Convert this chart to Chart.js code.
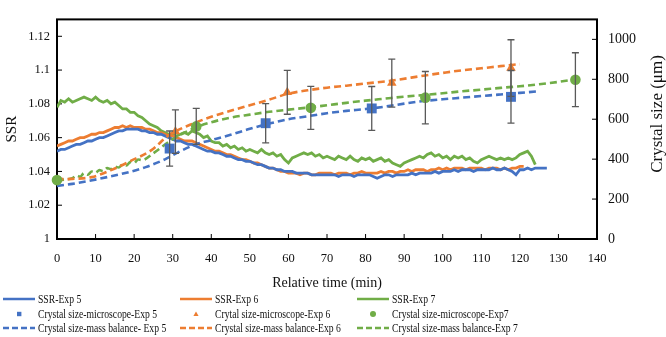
<!DOCTYPE html>
<html lang="en">
<head>
<meta charset="UTF-8">
<title>SSR and crystal size</title>
<style>
  body { margin: 0; background: #fff; overflow: hidden; }
  #wrap { position: relative; width: 666px; height: 337px; }
  #legend { position: absolute; left: 0; top: 0; width: 666px; height: 337px; pointer-events: none;
            font-family: "Liberation Serif", "Times New Roman", serif; font-size: 11.5px; color: #111; }
  .item { position: absolute; height: 14px; white-space: nowrap; }
  .item svg { position: absolute; left: 0; top: 0; }
  .item span { position: absolute; left: 35px; top: 0; line-height: 14px; display: inline-block;
               transform: scaleX(0.84); transform-origin: left center; }
</style>
</head>
<body>
<div id="wrap">
  <canvas id="myChart" width="666" height="337"></canvas>
  <div id="legend"></div>
</div>

<script src="https://cdn.jsdelivr.net/npm/chart.js"></script>
<script>
// SSR, one reading per minute starting at t = 0 (left axis)
const ssr5 = [
  1.052,1.053,1.053,1.054,1.055,1.056,1.056,1.057,1.058,1.058,
  1.059,1.060,1.060,1.061,1.062,1.063,1.064,1.064,1.065,1.065,
  1.065,1.065,1.064,1.064,1.063,1.063,1.062,1.062,1.061,1.060,
  1.059,1.058,1.058,1.057,1.056,1.056,1.055,1.054,1.053,1.052,
  1.052,1.051,1.051,1.050,1.049,1.049,1.048,1.047,1.047,1.046,
  1.046,1.045,1.044,1.044,1.043,1.042,1.042,1.041,1.041,1.040,
  1.040,1.040,1.039,1.039,1.039,1.039,1.038,1.038,1.038,1.038,
  1.038,1.038,1.038,1.037,1.038,1.038,1.038,1.037,1.038,1.038,
  1.038,1.038,1.037,1.036,1.037,1.038,1.038,1.037,1.038,1.038,
  1.038,1.038,1.039,1.038,1.039,1.039,1.039,1.039,1.040,1.039,
  1.040,1.040,1.040,1.041,1.040,1.041,1.041,1.041,1.040,1.041,
  1.041,1.041,1.041,1.042,1.041,1.041,1.042,1.041,1.040,1.038,
  1.041,1.041,1.042,1.041,1.042,1.042,1.042,1.042
];
const ssr6 = [
  1.055,1.056,1.057,1.058,1.058,1.059,1.060,1.060,1.061,1.062,
  1.062,1.063,1.063,1.064,1.065,1.066,1.066,1.067,1.066,1.067,
  1.066,1.066,1.066,1.065,1.065,1.064,1.063,1.063,1.062,1.061,
  1.061,1.060,1.059,1.058,1.058,1.058,1.057,1.056,1.055,1.054,
  1.053,1.052,1.052,1.051,1.050,1.050,1.049,1.048,1.047,1.047,
  1.046,1.045,1.045,1.044,1.043,1.042,1.042,1.041,1.040,1.040,
  1.039,1.039,1.039,1.038,1.039,1.039,1.038,1.038,1.039,1.039,
  1.039,1.039,1.038,1.039,1.039,1.039,1.038,1.039,1.039,1.040,
  1.039,1.039,1.039,1.039,1.040,1.039,1.040,1.040,1.039,1.040,
  1.040,1.041,1.040,1.041,1.041,1.041,1.040,1.041,1.041,1.042,
  1.041,1.042,1.041,1.042,1.042,1.042,1.041,1.042,1.042,1.042,
  1.042,1.041,1.042,1.042,1.042,1.041,1.042,1.041,1.042,1.042,
  1.043,1.043
];
const ssr7 = [
  1.078,1.082,1.081,1.083,1.081,1.082,1.083,1.084,1.083,1.082,
  1.084,1.082,1.081,1.082,1.080,1.081,1.079,1.077,1.077,1.075,
  1.075,1.073,1.072,1.070,1.068,1.067,1.066,1.064,1.063,1.062,
  1.062,1.061,1.062,1.063,1.062,1.064,1.063,1.062,1.060,1.061,
  1.058,1.057,1.057,1.055,1.056,1.054,1.055,1.053,1.054,1.052,
  1.053,1.052,1.051,1.053,1.051,1.050,1.051,1.049,1.050,1.047,
  1.045,1.048,1.049,1.050,1.051,1.050,1.051,1.049,1.050,1.048,
  1.049,1.048,1.047,1.049,1.048,1.047,1.049,1.047,1.046,1.048,
  1.047,1.048,1.046,1.047,1.048,1.046,1.047,1.045,1.044,1.043,
  1.045,1.046,1.047,1.048,1.049,1.048,1.050,1.051,1.049,1.050,
  1.048,1.049,1.047,1.049,1.048,1.049,1.047,1.048,1.046,1.045,
  1.047,1.048,1.049,1.048,1.047,1.048,1.047,1.048,1.047,1.048,
  1.050,1.051,1.052,1.049,1.044
];

// crystal size from microscope (right axis, µm) with error bars
const microTime5 = [29.2, 54.1, 81.6, 117.7];
const micro5     = [453, 580, 654, 712];
const microErr5  = [88, 98, 110, 132];
const microTime6 = [30.7, 59.7, 86.8, 117.7];
const micro6     = [538, 735, 781, 856];
const microErr6  = [109, 110, 120, 142];
const microTime7 = [0, 36.1, 65.8, 95.5, 134.4];
const micro7     = [295, 564, 657, 708, 798];
const microErr7  = [0, 90, 108, 131, 135];

// crystal size from mass balance (right axis, µm)
const mbTime5 = [0,4,8,13,18,23,28,32,36,40,45,50,55,60,65,70,75,80,85,90,95,100,105,110,115,120,125];
const mb5     = [266,276,290,310,332,360,399,440,474,495,522,552,578,600,615,630,642,651,663,678,691,700,708,716,724,732,740];
const mbTime6 = [0,1.5,4,9,14,19,24.5,29,34.5,40,45,50,55,60,65,70,75,80,87,95,100,105,110,115,120];
const mb6     = [312,300,301,310,345,390,445,520,572,612,642,670,698,728,745,758,768,779,794,818,832,845,855,866,876];
const mbTime7 = [0,2,4,5,6,7,8,9,10,11,12,13,14,15,16,17,18,19,20,21,22,25,30,36.1,40,45,50,55,60,65.8,70,75,80,85,90,95.5,100,105,110,115,120,125,130,134.4];
const mb7     = [295,298,305,318,312,330,322,338,332,345,340,355,350,362,358,372,368,385,380,398,395,430,500,560,585,608,623,637,648,660,670,682,693,703,713,722,730,740,748,757,765,775,787,800];

const blue = '#4472C4', orange = '#ED7D31', green = '#70AD47';
const serif = '"Liberation Serif", "Times New Roman", serif';

function minutes(v) { return v.map((y, i) => ({ x: i, y: y })); }
function pts(t, v) { return v.map((y, i) => ({ x: t[i], y: y })); }

function ssrLine(label, v, color) {
  return { label: label, data: minutes(v), yAxisID: 'y', borderColor: color, backgroundColor: color,
           borderWidth: 2.8, pointRadius: 0, showLine: true, tension: 0, order: 5 };
}
function microDots(label, t, v, color, style, r) {
  return { label: label, data: pts(t, v), yAxisID: 'y2', showLine: false, pointStyle: style,
           pointRadius: r, backgroundColor: color, borderColor: color, borderWidth: 0, clip: false, order: 1 };
}
function mbLine(label, t, v, color) {
  return { label: label, data: pts(t, v), yAxisID: 'y2', borderColor: color, backgroundColor: color,
           borderWidth: 2.6, borderDash: [7, 4], pointRadius: 0, showLine: true,
           cubicInterpolationMode: 'monotone', order: 3 };
}

const errorSets = [
  { t: microTime5, v: micro5, err: microErr5 },
  { t: microTime6, v: micro6, err: microErr6 },
  { t: microTime7, v: micro7, err: microErr7 }
];

const framePlugin = {
  id: 'frame',
  beforeDatasetsDraw(chart) {
    const ctx = chart.ctx, a = chart.chartArea;
    ctx.save();
    ctx.strokeStyle = '#000';
    ctx.lineWidth = 1;
    // tick marks pointing inside
    ctx.beginPath();
    chart.scales.x.ticks.forEach(t => {
      const px = chart.scales.x.getPixelForValue(t.value);
      ctx.moveTo(px, a.bottom); ctx.lineTo(px, a.bottom - 5);
    });
    chart.scales.y.ticks.forEach(t => {
      const py = chart.scales.y.getPixelForValue(t.value);
      ctx.moveTo(a.left, py); ctx.lineTo(a.left + 5, py);
    });
    chart.scales.y2.ticks.forEach(t => {
      const py = chart.scales.y2.getPixelForValue(t.value);
      ctx.moveTo(a.right, py); ctx.lineTo(a.right - 5, py);
    });
    ctx.stroke();
    ctx.lineWidth = 2;
    ctx.strokeRect(a.left, a.top, a.right - a.left, a.bottom - a.top);
    ctx.restore();
  },
  afterDatasetsDraw(chart) {
    const ctx = chart.ctx;
    const xs = chart.scales.x, yr = chart.scales.y2;
    ctx.save();
    ctx.strokeStyle = '#595959';
    ctx.lineWidth = 1.3;
    errorSets.forEach(s => {
      for (let i = 0; i < s.t.length; i++) {
        if (!s.err[i]) continue;
        const px = xs.getPixelForValue(s.t[i]);
        const top = yr.getPixelForValue(s.v[i] + s.err[i]);
        const bot = yr.getPixelForValue(s.v[i] - s.err[i]);
        ctx.beginPath();
        ctx.moveTo(px, top); ctx.lineTo(px, bot);
        ctx.moveTo(px - 3.5, top); ctx.lineTo(px + 3.5, top);
        ctx.moveTo(px - 3.5, bot); ctx.lineTo(px + 3.5, bot);
        ctx.stroke();
      }
    });
    ctx.restore();
  },
  afterDraw(chart) {
    // right axis title reads bottom to top
    const ctx = chart.ctx;
    ctx.save();
    ctx.translate(658, 114);
    ctx.rotate(-Math.PI / 2);
    ctx.fillStyle = '#111';
    ctx.font = '17px ' + serif;
    ctx.textAlign = 'center';
    ctx.textBaseline = 'middle';
    ctx.fillText('Crystal size (\u03bcm)', 0, 0);
    ctx.restore();
  }
};

Chart.defaults.font.family = serif;
Chart.defaults.color = '#111';

const ctx = document.getElementById('myChart');
const v_chart = new Chart(ctx, {
  type: 'line',
  data: {
    datasets: [
      ssrLine('SSR-Exp 5', ssr5, blue),
      ssrLine('SSR-Exp 6', ssr6, orange),
      ssrLine('SSR-Exp 7', ssr7, green),
      microDots('Crystal size-microscope-Exp 5', microTime5, micro5, blue, 'rect', 7),
      microDots('Crytal size-microscope-Exp 6', microTime6, micro6, orange, 'triangle', 5.5),
      microDots('Crystal size-microscope-Exp7', microTime7, micro7, green, 'circle', 5.3),
      mbLine('Crystal size-mass balance- Exp 5', mbTime5, mb5, blue),
      mbLine('Crystal size-mass balance-Exp 6', mbTime6, mb6, orange),
      mbLine('Crystal size-mass balance-Exp 7', mbTime7, mb7, green)
    ]
  },
  options: {
    responsive: false,
    animation: false,
    devicePixelRatio: 1,
    layout: { padding: { top: 3, bottom: 43, left: 0, right: 0 } },
    plugins: { legend: { display: false }, tooltip: { enabled: false } },
    scales: {
      x: {
        type: 'linear', position: 'bottom', min: 0, max: 140,
        border: { display: false },
        grid: { display: false, drawTicks: false },
        ticks: { stepSize: 10, padding: 12, maxRotation: 0, autoSkip: false, font: { size: 12.5 } },
        title: { display: true, text: 'Relative time (min)', font: { size: 14 }, padding: { top: 2, bottom: 2 } },
        afterFit(s) { s.height = 55; }
      },
      y: {
        type: 'linear', position: 'left', min: 1, max: 1.13,
        border: { display: false },
        grid: { display: false, drawTicks: false },
        afterBuildTicks(s) { s.ticks = s.ticks.filter(t => t.value <= 1.1201); },
        ticks: { stepSize: 0.02, padding: 7, font: { size: 12.5 },
                 callback: v => String(+(+v).toFixed(2)) },
        title: { display: true, text: 'SSR', font: { size: 15 }, padding: { top: 3, bottom: 0 } },
        afterFit(s) { s.width = 57; }
      },
      y2: {
        type: 'linear', position: 'right', min: 0, max: 1100,
        border: { display: false },
        grid: { display: false, drawTicks: false },
        afterBuildTicks(s) { s.ticks = s.ticks.filter(t => t.value <= 1000); },
        ticks: { stepSize: 200, padding: 11, font: { size: 14 }, callback: v => String(v) },
        afterFit(s) { s.width = 69; }
      }
    }
  },
  plugins: [framePlugin]
});

// legend in three columns, built from the datasets
const colLeft = [3, 180, 357];
const rowMid = [299, 313.5, 328];
const legendBox = document.getElementById('legend');
v_chart.data.datasets.forEach((ds, i) => {
  const c = ds.borderColor;
  let mark;
  if (ds.showLine === false) {
    if (ds.pointStyle === 'rect') mark = '<rect x="14" y="4.8" width="4.4" height="4.4" fill="' + c + '"/>';
    else if (ds.pointStyle === 'triangle') mark = '<polygon points="16,4.5 18.6,9 13.4,9" fill="' + c + '"/>';
    else mark = '<circle cx="16" cy="7" r="3" fill="' + c + '"/>';
  } else {
    const dash = ds.borderDash ? ' stroke-dasharray="6 3"' : '';
    mark = '<line x1="0" y1="7" x2="32" y2="7" stroke="' + c + '" stroke-width="2.5"' + dash + '/>';
  }
  const div = document.createElement('div');
  div.className = 'item';
  div.style.left = colLeft[i % 3] + 'px';
  div.style.top = (rowMid[Math.floor(i / 3)] - 7) + 'px';
  div.innerHTML = '<svg width="32" height="14">' + mark + '</svg><span>' + ds.label + '</span>';
  legendBox.appendChild(div);
});
</script>
</body>
</html>
